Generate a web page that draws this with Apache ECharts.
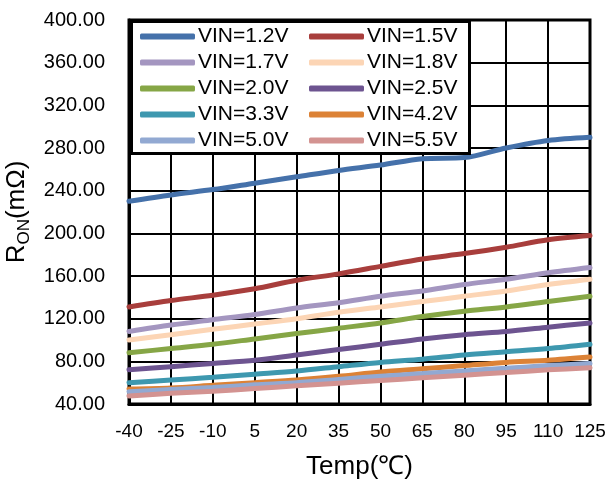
<!DOCTYPE html>
<html><head><meta charset="utf-8">
<script src="https://cdn.jsdelivr.net/npm/echarts@6/dist/echarts.min.js"></script>
<style>html,body{margin:0;padding:0;background:#fff}#c{width:608px;height:480px}</style>
</head><body><div id="c"></div>
<script>
const temps = ['-40','-25','-10','5','20','35','50','65','80','95','110','125'];
const seriesNames = ['VIN=1.2V','VIN=1.5V','VIN=1.7V','VIN=1.8V','VIN=2.0V','VIN=2.5V','VIN=3.3V','VIN=4.2V','VIN=5.0V','VIN=5.5V'];
const vin12 = [230, 236, 241, 247, 253, 259, 264, 270, 271, 280, 287, 290];
const vin15 = [131, 137, 142, 148, 156, 162, 169, 176, 181, 187, 194, 198];
const vin17 = [108, 114, 119, 124, 130, 135, 141, 146, 152, 157, 163, 168];
const vin18 = [100, 105, 110, 115, 120, 126, 131, 136, 141, 146, 152, 157];
const vin20 = [88, 92, 96, 101, 106, 111, 116, 122, 127, 131, 136, 141];
const vin25 = [72, 75, 78, 81, 86, 91, 96, 101, 105, 108, 112, 116];
const vin33 = [60, 62.5, 65, 68, 71, 75, 79, 82, 86, 89, 92, 96];
const vin42 = [54, 55, 57.5, 60, 62.5, 66, 70, 73, 76, 79, 81, 84];
const vin50 = [51.5, 53.5, 55.5, 58, 60, 63, 66, 68.5, 71, 73.5, 76, 78];
const vin55 = [47.5, 50, 52, 54.5, 57, 59.5, 62, 64.5, 67, 69.5, 72, 74];
const allData = [vin12, vin15, vin17, vin18, vin20, vin25, vin33, vin42, vin50, vin55];
const colors = ['#4571AA','#A83E3C','#A496C0','#FCD5B5','#86A646','#6D5490','#3E98AF','#DC8236','#92A9D2','#D39391'];

const FONT = 'Arial, "Liberation Sans", sans-serif';
const chart = echarts.init(document.getElementById('c'), null, {renderer:'canvas'});
const series = seriesNames.map((n, i) => ({
  name: n, type: 'line', data: allData[i], smooth: 0.3, symbol: 'none',
  lineStyle: {width: 5, color: colors[i], cap: 'round'}, itemStyle: {color: colors[i]}, z: 2
}));
const legendCommon = {
  orient: 'vertical', itemWidth: 55, itemHeight: 6, itemGap: 5, icon: 'roundRect', padding: 0,
  textStyle: {fontSize: 21, fontFamily: FONT, color: '#000', lineHeight: 20, padding: [0,0,0,-2]},
  top: 26, z: 5
};
chart.setOption({
  animation: false,
  color: colors,
  grid: {left: 129, right: 18, top: 20, bottom: 76, containLabel: false, outerBoundsMode: 'none', show: true, borderColor: '#000', borderWidth: 3, backgroundColor: 'transparent'},
  xAxis: {
    type: 'category', data: temps, boundaryGap: false,
    axisLine: {lineStyle: {color: '#000', width: 3}},
    axisTick: {show: false, interval: 0},
    axisLabel: {fontSize: 19, fontFamily: FONT, color: '#000', margin: 18, interval: 0, hideOverlap: false},
    splitLine: {show: true, interval: 0, lineStyle: {color: '#000', width: 2}},
    name: 'Temp(℃)', nameLocation: 'middle', nameGap: 50,
    nameTextStyle: {fontSize: 26, fontFamily: FONT, color: '#000'}
  },
  yAxis: {
    type: 'value', min: 40, max: 400, interval: 40,
    axisLine: {show: true, lineStyle: {color: '#000', width: 3}},
    axisTick: {show: false},
    axisLabel: {fontSize: 20, fontFamily: FONT, color: '#000', margin: 24, formatter: v => v.toFixed(2)},
    splitLine: {show: true, lineStyle: {color: '#000', width: 2}},
    name: '{a|R}{b|ON}{a|(mΩ)}', nameLocation: 'middle', nameGap: 80,
    nameTextStyle: {fontFamily: FONT, color: '#000', rich: {
      a: {fontSize: 26, fontFamily: FONT, color: '#000', lineHeight: 32, verticalAlign: 'middle'},
      b: {fontSize: 17, fontFamily: FONT, color: '#000', lineHeight: 32, verticalAlign: 'bottom'}
    }}
  },
  legend: [
    Object.assign({}, legendCommon, {left: 140, data: [seriesNames[0], seriesNames[2], seriesNames[4], seriesNames[6], seriesNames[8]]}),
    Object.assign({}, legendCommon, {left: 309, data: [seriesNames[1], seriesNames[3], seriesNames[5], seriesNames[7], seriesNames[9]]})
  ],
  graphic: [{
    type: 'rect', left: 130, top: 20, z: 4,
    shape: {width: 338, height: 132},
    style: {fill: '#fff', stroke: '#000', lineWidth: 3}
  }],
  series: series
});
</script></body></html>
